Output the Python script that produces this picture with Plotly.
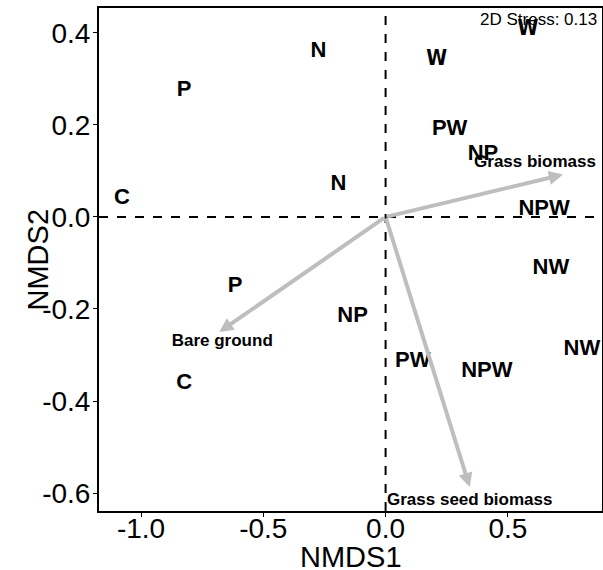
import plotly.graph_objects as go

# Site scores (treatment labels)
site_labels = ["C", "P", "N", "N", "P", "C", "NP", "PW", "NP", "NPW", "NW", "NW", "PW", "NPW"]
site_x = [-1.078, -0.824, -0.275, -0.193, -0.615, -0.824, -0.135, 0.262, 0.398, 0.648, 0.676, 0.803, 0.111, 0.414]
site_y = [0.041, 0.274, 0.359, 0.070, -0.152, -0.361, -0.217, 0.189, 0.135, 0.017, -0.113, -0.289, -0.315, -0.335]

# W sites (drawn in narrow font)
w_labels = ["W", "W"]
w_x = [0.209, 0.582]
w_y = [0.341, 0.407]

# Environmental vectors
vec_names = ["Grass biomass", "Bare ground", "Grass seed biomass"]
vec_x = [0.725, -0.680, 0.344]
vec_y = [0.092, -0.250, -0.587]
vec_label_x = [0.611, -0.668, 0.344]
vec_label_y = [0.117, -0.271, -0.616]

stress_text = "2D Stress: 0.13"

x_range = [-1.172, 0.885]
y_range = [-0.639, 0.454]
x_ticks = [-1.0, -0.5, 0.0, 0.5]
y_ticks = [0.4, 0.2, 0.0, -0.2, -0.4, -0.6]

FONT = "Liberation Sans, Arial, sans-serif"

fig = go.Figure()

fig.add_trace(go.Scatter(
    x=site_x, y=site_y, text=site_labels, mode="text",
    textfont=dict(family=FONT, size=22, color="black", weight="bold"),
    hoverinfo="skip", showlegend=False,
))
fig.add_trace(go.Scatter(
    x=w_x, y=w_y, text=w_labels, mode="text",
    textfont=dict(family="Liberation Sans Narrow, DejaVu Sans Condensed, Arial Narrow, sans-serif",
                  size=21, color="black", weight="bold"),
    hoverinfo="skip", showlegend=False,
))

annotations = []
for vx, vy in zip(vec_x, vec_y):
    annotations.append(dict(
        x=vx, y=vy, ax=0, ay=0, xref="x", yref="y", axref="x", ayref="y",
        text="", showarrow=True, arrowhead=2, arrowsize=0.7, arrowwidth=4,
        arrowcolor="#BEBEBE",
    ))

fig.add_trace(go.Scatter(
    x=vec_label_x, y=vec_label_y, text=vec_names, mode="text",
    textfont=dict(family=FONT, size=17, color="black", weight="bold"),
    hoverinfo="skip", showlegend=False,
))

annotations.append(dict(
    x=1, y=1, xref="paper", yref="paper", xanchor="right", yanchor="top",
    text=stress_text, showarrow=False, xshift=-3, yshift=0,
    font=dict(family=FONT, size=17, color="black"),
))

# axis titles as annotations (plot area: 503 x 503 px)
annotations.append(dict(
    x=0.5, y=-(557 - 511) / 503, xref="paper", yref="paper", xanchor="center", yanchor="middle",
    text="NMDS1", showarrow=False, font=dict(family=FONT, size=29, color="black"),
))
annotations.append(dict(
    x=-(99 - 37) / 503, y=0.5, xref="paper", yref="paper", xanchor="center", yanchor="middle",
    text="NMDS2", textangle=-90, showarrow=False, font=dict(family=FONT, size=29, color="black"),
))

fig.update_layout(
    width=603, height=570,
    margin=dict(l=99, r=1, t=8, b=59, autoexpand=False),
    plot_bgcolor="white", paper_bgcolor="white",
    annotations=annotations,
    shapes=[
        dict(type="line", xref="x", yref="paper", x0=0, x1=0, y0=0, y1=1,
             line=dict(color="black", width=2, dash="dash"), layer="below"),
        dict(type="line", xref="paper", yref="y", x0=0, x1=1, y0=0, y1=0,
             line=dict(color="black", width=2, dash="dash"), layer="below"),
    ],
    font=dict(family=FONT, color="black"),
)

fig.update_xaxes(
    range=x_range, tickvals=x_ticks, ticktext=[f"{v:.1f}" for v in x_ticks],
    showgrid=False, zeroline=False, showline=True, linecolor="black", linewidth=2,
    mirror=True, ticks="outside", ticklen=4, tickcolor="black", tickwidth=1,
    tickfont=dict(size=28, color="black"), ticklabelstandoff=-13,
    automargin=False,
)
fig.update_yaxes(
    range=y_range, tickvals=y_ticks, ticktext=[f"{v:.1f}" for v in y_ticks],
    showgrid=False, zeroline=False, showline=True, linecolor="black", linewidth=2,
    mirror=True, ticks="outside", ticklen=4, tickcolor="black", tickwidth=1,
    tickfont=dict(size=28, color="black"), ticklabelstandoff=-3,
    automargin=False,
)

fig.write_html("out.html")
